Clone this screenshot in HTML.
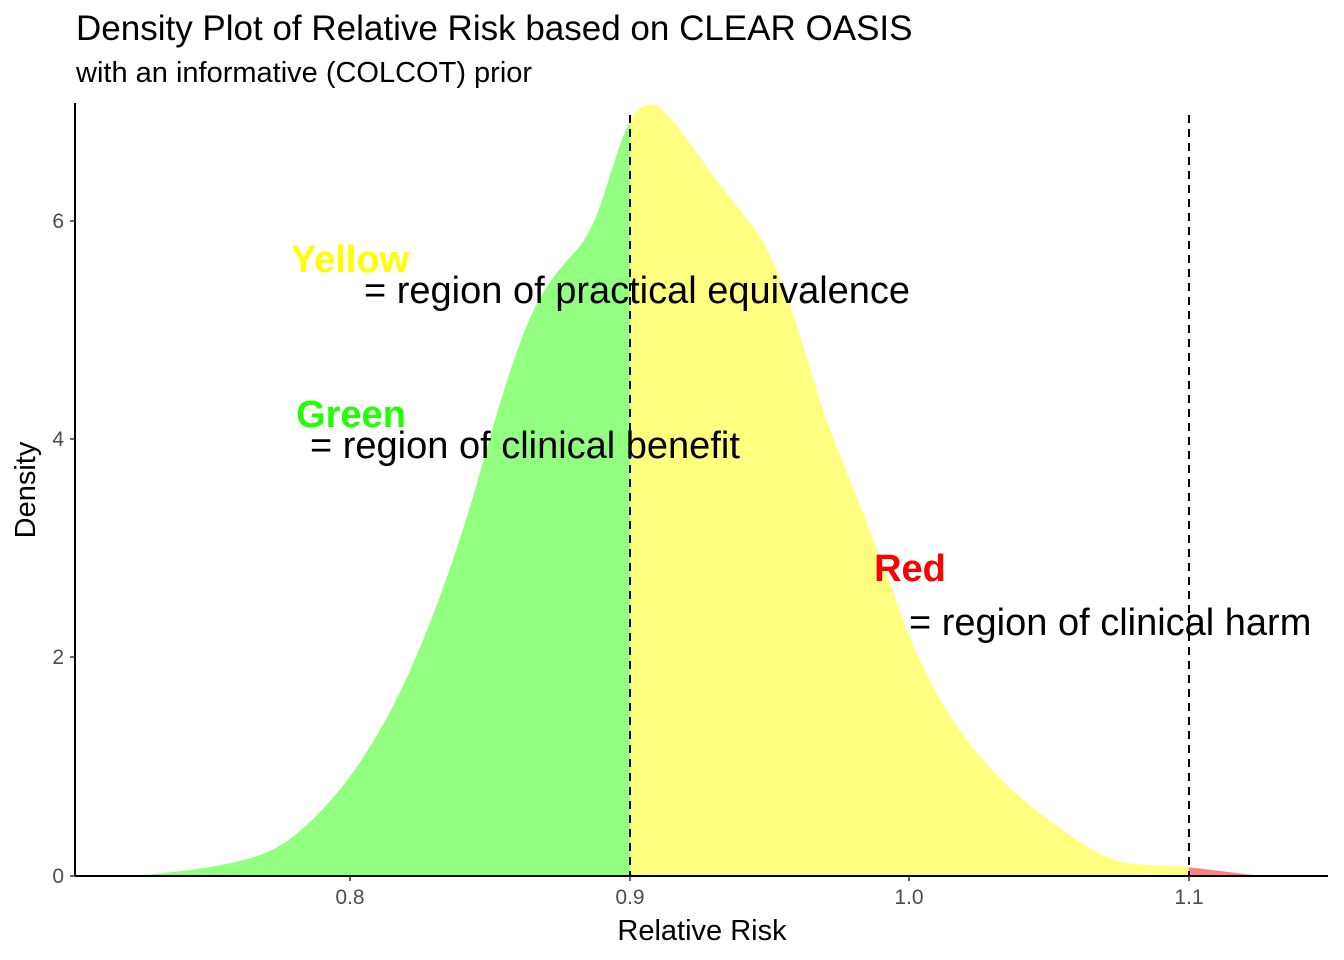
<!DOCTYPE html>
<html><head><meta charset="utf-8"><style>
html,body{margin:0;padding:0;background:#fff;}
svg{display:block;font-family:"Liberation Sans",Arial,sans-serif;}
</style></head><body>
<svg width="1344" height="960" viewBox="0 0 1344 960" xmlns="http://www.w3.org/2000/svg">
<defs>
<path id="dens" d="M140,875 C180,872 230,866 260,855 C285,846 300,832 320,812 C345,786 365,758 390,712 C420,655 450,575 475,490 C495,420 510,365 530,318 C545,285 560,268 575,252 C590,236 600,210 610,175 C620,145 628,118 640,108 C648,103 655,102 665,112 C680,128 700,158 720,185 C740,210 755,228 765,245 C780,275 790,305 800,335 C815,385 825,420 840,455 C860,505 880,555 905,625 C930,690 960,735 990,768 C1020,800 1050,822 1080,842 C1100,855 1115,862 1135,864 C1160,866 1180,866 1195,868 C1215,870 1240,874 1265,876 L140,876 Z"/>
<clipPath id="cg"><rect x="0" y="0" width="630" height="960"/></clipPath>
<clipPath id="cy"><rect x="630" y="0" width="559" height="960"/></clipPath>
<clipPath id="cr"><rect x="1189" y="0" width="200" height="960"/></clipPath>
</defs>
<use href="#dens" fill="#93ff80" clip-path="url(#cg)"/>
<use href="#dens" fill="#ffff80" clip-path="url(#cy)"/>
<use href="#dens" fill="#ff8080" clip-path="url(#cr)"/>
<line x1="630" y1="115" x2="630" y2="876" stroke="#000" stroke-width="2" stroke-dasharray="8,6"/>
<line x1="1189" y1="115" x2="1189" y2="876" stroke="#000" stroke-width="2" stroke-dasharray="8,6"/>
<line x1="75" y1="103" x2="75" y2="876" stroke="#000" stroke-width="2"/>
<line x1="75" y1="876" x2="1328" y2="876" stroke="#000" stroke-width="2"/>
<g stroke="#333" stroke-width="1.5">
<line x1="70" y1="876" x2="75" y2="876"/><line x1="70" y1="657" x2="75" y2="657"/>
<line x1="70" y1="439" x2="75" y2="439"/><line x1="70" y1="221" x2="75" y2="221"/>
<line x1="350" y1="876" x2="350" y2="881"/><line x1="630" y1="876" x2="630" y2="881"/>
<line x1="909" y1="876" x2="909" y2="881"/><line x1="1189" y1="876" x2="1189" y2="881"/>
</g>
<g font-size="21" fill="#4d4d4d" text-anchor="end">
<text x="64" y="883">0</text><text x="64" y="664">2</text><text x="64" y="446">4</text><text x="64" y="228">6</text>
</g>
<g font-size="21" fill="#4d4d4d" text-anchor="middle">
<text x="350" y="904">0.8</text><text x="630" y="904">0.9</text><text x="909" y="904">1.0</text><text x="1189" y="904">1.1</text>
</g>
<text x="702" y="940" font-size="29" text-anchor="middle">Relative Risk</text>
<text x="0" y="0" font-size="29" text-anchor="middle" transform="translate(35,490) rotate(-90)">Density</text>
<text x="76" y="40" font-size="35">Density Plot of Relative Risk based on CLEAR OASIS</text>
<text x="76" y="82" font-size="29">with an informative (COLCOT) prior</text>
<g font-size="38">
<text x="350" y="272" text-anchor="middle" font-weight="bold" fill="#ffff00">Yellow</text>
<text x="364" y="303">= region of practical equivalence</text>
<text x="351" y="427" text-anchor="middle" font-weight="bold" fill="#22ff00">Green</text>
<text x="310" y="458">= region of clinical benefit</text>
<text x="910" y="581" text-anchor="middle" font-weight="bold" fill="#ff0000">Red</text>
<text x="909" y="635">= region of clinical harm</text>
</g>
</svg>
</body></html>
